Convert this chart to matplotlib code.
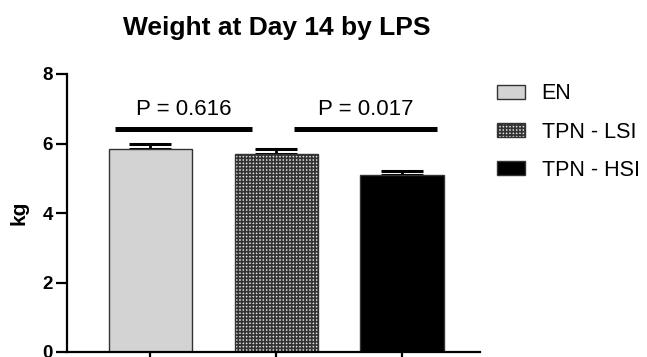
import matplotlib
matplotlib.use("Agg")
import matplotlib.pyplot as plt

# weight at day 14, grouped by LPS
groups = ["EN", "TPN - LSI", "TPN - HSI"]
means = [5.83, 5.70, 5.10]
sems = [0.15, 0.13, 0.10]

# pairwise comparisons: x extent of the bracket line and its p value
brackets = [(-0.28, 0.81), (1.14, 2.28)]
pvals = ["P = 0.616", "P = 0.017"]
bracket_y = 6.42

plt.rcParams['font.family'] = ['Liberation Sans', 'DejaVu Sans']
plt.rcParams['hatch.linewidth'] = 1.2

fig = plt.figure(figsize=(6.47, 3.57), dpi=100)
ax = fig.add_axes([67/647, 1-352/357, (480-67)/647, (352-74)/357])

faces = ["#d3d3d3", "#dcdcdc", "black"]
hatches = [None, "+++++", None]
x = list(range(len(groups)))
for i in x:
    ax.bar(i, means[i], width=0.66, color=faces[i], edgecolor="#333333",
           linewidth=1.0, hatch=hatches[i], label=groups[i], zorder=2)
    ax.errorbar(i, means[i], yerr=[[0], [sems[i]]], fmt="none", ecolor="black",
                elinewidth=2, capsize=15, capthick=2.2, zorder=1)

# significance brackets
for (l, r), txt in zip(brackets, pvals):
    ax.plot([l, r], [bracket_y, bracket_y], color="black", lw=3.6,
            solid_capstyle="butt", clip_on=False)
    ax.text((l + r) / 2, 6.82, txt, ha="center", va="baseline", fontsize=16)

ax.set_xlim(-0.663, 2.62)
ax.set_ylim(0, 8)
ax.set_yticks([0, 2, 4, 6, 8])
ax.set_xticks(x)
ax.set_xticklabels([])
for s in ["top", "right"]:
    ax.spines[s].set_visible(False)
for s in ["left", "bottom"]:
    ax.spines[s].set_linewidth(1.6)
ax.tick_params(axis="both", width=1.6, length=8, labelsize=13.5, pad=2)
for t in ax.get_yticklabels():
    t.set_fontweight("bold")
ax.set_ylabel("kg", fontsize=15, fontweight="bold", labelpad=10)

fig.text(277/647, 1-28/357, "Weight at Day 14 by LPS", ha="center", va="center",
         fontsize=19, fontweight="bold")

ax.legend(loc="upper left", bbox_to_anchor=(478/647, 1-64/357),
          bbox_transform=fig.transFigure, frameon=False, fontsize=15.5,
          handlelength=1.3, handleheight=0.6, handletextpad=0.75,
          labelspacing=0.8)

fig.savefig("out.png", dpi=100)
